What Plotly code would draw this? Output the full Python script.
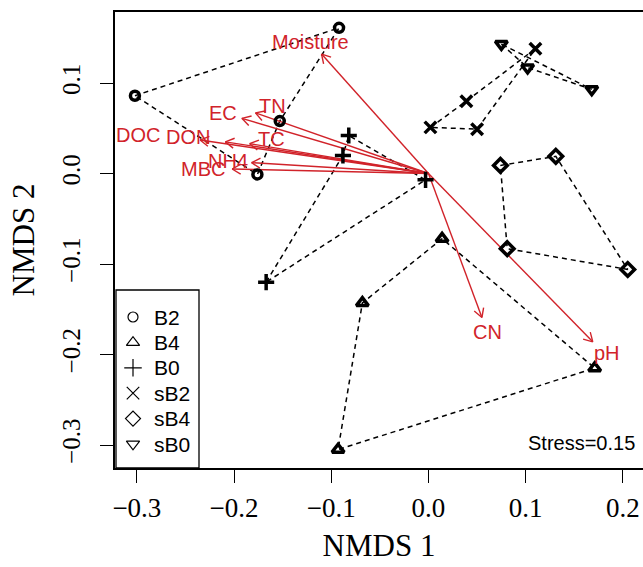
import math
import plotly.graph_objects as go

# ---------------- data ----------------
groups = ["B2", "B4", "B0", "sB2", "sB4", "sB0"]

B2_x = [-0.302, -0.092, -0.153, -0.176]
B2_y = [0.086, 0.161, 0.058, -0.001]
B4_x = [0.014, -0.068, -0.093, 0.171]
B4_y = [-0.072, -0.143, -0.305, -0.215]
B0_x = [-0.167, -0.088, -0.082, -0.003]
B0_y = [-0.120, 0.020, 0.042, -0.007]
sB2_x = [0.002, 0.039, 0.110, 0.050]
sB2_y = [0.051, 0.080, 0.138, 0.049]
sB4_x = [0.074, 0.131, 0.205, 0.081]
sB4_y = [0.009, 0.019, -0.106, -0.083]
sB0_x = [0.075, 0.102, 0.168]
sB0_y = [0.143, 0.117, 0.093]

env_vars = ["Moisture", "TN", "EC", "DOC", "DON", "TC", "NH4", "MBC", "CN", "pH"]
env_x = [-0.110, -0.178, -0.192, -0.235, -0.209, -0.184, -0.182, -0.202, 0.055, 0.169]
env_y = [0.132, 0.067, 0.061, 0.037, 0.035, 0.033, 0.012, 0.005, -0.159, -0.186]
label_x = [-0.121, -0.160, -0.211, -0.299, -0.247, -0.161, -0.206, -0.232, 0.061, 0.184]
label_y = [0.145, 0.075, 0.067, 0.043, 0.040, 0.038, 0.014, 0.005, -0.175, -0.198]

stress = 0.15
x_ticks = [-0.3, -0.2, -0.1, 0.0, 0.1, 0.2]
y_ticks = [-0.3, -0.2, -0.1, 0.0, 0.1]

# ---------------- styling ----------------
W, H = 643, 567
ML, MR, MT, MB = 115, 0, 12, 99
PW, PH = W - ML - MR, H - MT - MB
XR = [-0.3225, 0.2207]
YR = [-0.3254, 0.1785]
RED = "#D1232A"
SERIF = "Liberation Serif, Times New Roman, serif"
SANS = "Liberation Sans, Arial, sans-serif"

group_data = {
    "B2": (B2_x, B2_y, "circle-open", 9),
    "B4": (B4_x, B4_y, "triangle-up-open", 10.5),
    "B0": (B0_x, B0_y, "cross-thin-open", 11.5),
    "sB2": (sB2_x, sB2_y, "x-thin-open", 11.5),
    "sB4": (sB4_x, sB4_y, "diamond-open", 10.5),
    "sB0": (sB0_x, sB0_y, "triangle-down-open", 10.5),
}

fig = go.Figure()

# dashed polygons joining each group's points
for g in groups:
    gx, gy, sym, sz = group_data[g]
    fig.add_trace(go.Scatter(
        x=list(gx) + [gx[0]], y=list(gy) + [gy[0]], mode="lines",
        line=dict(color="black", width=1.5, dash="5px,4px"),
        showlegend=False, hoverinfo="skip"))

# environmental vectors: shafts
sx, sy = [], []
for ex, ey in zip(env_x, env_y):
    sx += [0, ex, None]
    sy += [0, ey, None]
fig.add_trace(go.Scatter(x=sx, y=sy, mode="lines",
                         line=dict(color=RED, width=1.4),
                         showlegend=False, hoverinfo="skip"))

# arrow heads (open V), computed from the axis scale
ppx = PW / (XR[1] - XR[0])
ppy = PH / (YR[1] - YR[0])
HL = 10.0
hx, hy = [], []
for ex, ey in zip(env_x, env_y):
    ang = math.atan2(ey * ppy, ex * ppx)
    for s in (1, -1):
        a = ang + math.pi + s * math.pi / 6
        hx += [ex, ex + HL * math.cos(a) / ppx, None]
        hy += [ey, ey + HL * math.sin(a) / ppy, None]
fig.add_trace(go.Scatter(x=hx, y=hy, mode="lines",
                         line=dict(color=RED, width=1.4),
                         showlegend=False, hoverinfo="skip"))

# points
for g in groups:
    gx, gy, sym, sz = group_data[g]
    fig.add_trace(go.Scatter(
        x=gx, y=gy, mode="markers",
        marker=dict(symbol=sym, size=sz, color="black",
                    line=dict(color="black", width=3.5)),
        showlegend=False, hoverinfo="skip"))

# vector labels
for name, lx, ly in zip(env_vars, label_x, label_y):
    fig.add_annotation(x=lx, y=ly, xref="x", yref="y", text=name,
                       showarrow=False, font=dict(family=SANS, size=20, color=RED),
                       xanchor="center", yanchor="middle")

fig.add_annotation(x=(637 - ML) / PW, y=(468 - 443) / PH, xref="paper", yref="paper",
                   text=f"Stress={stress:.2f}", showarrow=False,
                   font=dict(family=SANS, size=20, color="black"),
                   xanchor="right", yanchor="middle")

# ---------------- manual legend (pixel-like overlay axes) ----------------
LEG_L, LEG_R, LEG_T = 1, 84, 178          # box, px from plot's bottom-left
LEG_SYM_X, LEG_TXT_X = 18, 37
LEG_FIRST, LEG_STEP = 151, 25.4
fig.add_shape(type="rect", xref="x2", yref="y2", x0=LEG_L, x1=LEG_R, y0=0, y1=LEG_T,
              line=dict(color="black", width=1.3), fillcolor="white", layer="below")
for i, g in enumerate(groups):
    gx, gy, sym, sz = group_data[g]
    yy = LEG_FIRST - i * LEG_STEP
    fig.add_trace(go.Scatter(
        x=[LEG_SYM_X], y=[yy], xaxis="x2", yaxis="y2", mode="markers",
        marker=dict(symbol=sym, size=sz + 1, color="black",
                    line=dict(color="black", width=1.2)),
        showlegend=False, hoverinfo="skip"))
    fig.add_annotation(x=LEG_TXT_X, y=yy, xref="x2", yref="y2", text=g,
                       showarrow=False, xanchor="left", yanchor="middle",
                       font=dict(family=SANS, size=21, color="black"))

fig.update_layout(
    width=W, height=H,
    margin=dict(l=ML, r=MR, t=MT, b=MB),
    paper_bgcolor="white", plot_bgcolor="white",
    showlegend=False,
    xaxis=dict(range=XR, tickvals=x_ticks, ticktext=[f"{v:.1f}".replace("-", "\u2212") for v in x_ticks],
               showgrid=False, zeroline=False, showline=True, mirror=True,
               linecolor="black", linewidth=1.5, ticks="outside", ticklen=13,
               tickwidth=1.3, tickcolor="black", ticklabelstandoff=2,
               tickfont=dict(family=SERIF, size=27, color="black"),
               title=dict(text="NMDS 1", font=dict(family=SERIF, size=31, color="black"), standoff=12)),
    yaxis=dict(range=YR, tickvals=y_ticks, ticktext=[f"{v:.1f}".replace("-", "\u2212") for v in y_ticks],
               showgrid=False, zeroline=False, showline=True, mirror=False,
               linecolor="black", linewidth=1.5, ticks="outside", ticklen=13,
               tickwidth=1.3, tickcolor="black", tickangle=-90, ticklabelstandoff=10,
               tickfont=dict(family=SERIF, size=25, color="black"),
               title=dict(text="NMDS 2", font=dict(family=SERIF, size=31, color="black"), standoff=14)),
    xaxis2=dict(range=[0, PW], overlaying="x", visible=False, fixedrange=True),
    yaxis2=dict(range=[0, PH], overlaying="y", visible=False, fixedrange=True),
)

fig.write_html("out.html")
